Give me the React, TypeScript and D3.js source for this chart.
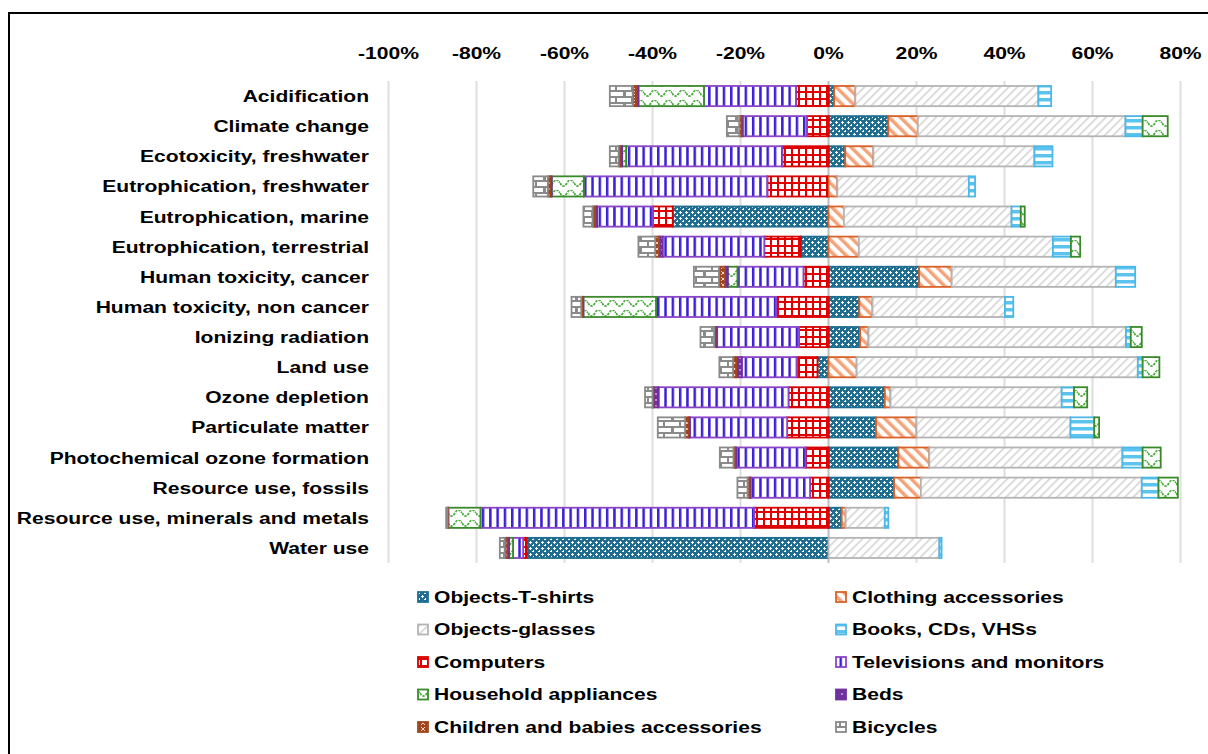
import React from "react";
import * as d3 from "d3";

const categories = [
  "Acidification",
  "Climate change",
  "Ecotoxicity, freshwater",
  "Eutrophication, freshwater",
  "Eutrophication, marine",
  "Eutrophication, terrestrial",
  "Human toxicity, cancer",
  "Human toxicity, non cancer",
  "Ionizing radiation",
  "Land use",
  "Ozone depletion",
  "Particulate matter",
  "Photochemical ozone formation",
  "Resource use, fossils",
  "Resource use, minerals and metals",
  "Water use",
];

const seriesNames = [
  "Objects-T-shirts",
  "Clothing accessories",
  "Objects-glasses",
  "Books, CDs, VHSs",
  "Computers",
  "Televisions and monitors",
  "Household appliances",
  "Beds",
  "Children and babies accessories",
  "Bicycles",
];

const tshirts = [1.3, 13.6, 3.8, -0.3, -35.4, -6.3, 20.6, 7.0, 7.2, -2.5, 12.8, 10.8, 15.9, 14.9, 3.0, -68.6];
const clothing = [4.8, 6.7, 6.4, 2.0, 3.5, 6.9, 7.4, 3.0, 1.9, 6.4, 1.3, 9.2, 7.0, 6.1, 0.9, 0];
const glasses = [41.6, 47.2, 36.6, 29.9, 38.1, 44.1, 37.3, 30.1, 58.5, 63.9, 38.9, 35.0, 43.9, 50.2, 8.9, 25.2];
const books = [2.9, 3.9, 4.1, 1.4, 2.1, 4.1, 4.4, 1.9, 1.1, 1.1, 2.8, 5.4, 4.6, 3.8, 0.8, 0.5];
const computers = [-7.4, -4.9, -10.5, -13.6, -4.5, -8.3, -5.7, -11.9, -6.7, -4.7, -9.1, -9.4, -5.2, -4.2, -16.9, -0.8];
const televisions = [-20.9, -14.6, -35.5, -41.7, -12.7, -23.1, -15.0, -27.3, -18.7, -12.5, -29.6, -22.1, -15.8, -13.5, -62.2, -2.3];
const household = [-14.9, 5.7, -0.9, -7.3, 0.9, 2.1, -2.2, -16.5, 2.5, 3.8, 3.0, 1.1, 4.1, 4.4, -7.3, -0.9];
const beds = [-0.4, -0.3, -0.5, -0.3, -0.4, -0.8, -0.6, -0.2, -0.3, -1.3, -1.1, -0.3, -0.2, -0.2, -0.1, -0.4];
const children = [-0.9, -0.5, -0.3, -0.6, -0.6, -0.9, -1.4, -0.3, -0.3, -0.7, -0.2, -0.8, -0.4, -0.5, -0.1, -0.6];
const bicycles = [-5.2, -2.8, -2.0, -3.3, -2.1, -3.8, -5.7, -2.2, -3.1, -3.1, -1.7, -6.2, -3.1, -2.3, -0.3, -1.1];

const seriesValues = [tshirts, clothing, glasses, books, computers, televisions, household, beds, children, bicycles];

const xTicks = [-100, -80, -60, -40, -20, 0, 20, 40, 60, 80];

const strokes = ["#1f6e92", "#d9622b", "#b4b4b4", "#4db8e8", "#d80000", "#8a45c8", "#3b8a2a", "#7030a0", "#a0461e", "#8a8a8a"];

const FONT = "Liberation Sans, Arial, sans-serif";
const STRETCH = 1.24;

function Patterns() {
  return (
    <defs>
      <pattern id="p0" patternUnits="userSpaceOnUse" width="6" height="6">
        <rect width="6" height="6" fill="#1f6e92" />
        <rect x="1" y="2" width="3" height="1" fill="#fff" />
        <rect x="2" y="1" width="1" height="3" fill="#fff" />
        <rect x="4" y="5" width="3" height="1" fill="#fff" />
        <rect x="5" y="4" width="1" height="3" fill="#fff" />
        <rect x="-1" y="5" width="1" height="1" fill="#fff" />
      </pattern>
      <pattern id="p1" patternUnits="userSpaceOnUse" width="8" height="8" patternTransform="rotate(-45)">
        <rect width="8" height="8" fill="#fff" />
        <rect x="0" y="0" width="3.5" height="8" fill="#f4a47a" />
      </pattern>
      <pattern id="p2" patternUnits="userSpaceOnUse" width="6" height="6" patternTransform="rotate(45)">
        <rect width="6" height="6" fill="#fff" />
        <rect x="0" y="0" width="1.6" height="6" fill="#d4d4d4" />
      </pattern>
      <pattern id="p3" patternUnits="userSpaceOnUse" width="8" height="7">
        <rect width="8" height="7" fill="#fff" />
        <rect x="0" y="0" width="8" height="3.5" fill="#5bc4ee" />
      </pattern>
      <pattern id="p4" patternUnits="userSpaceOnUse" width="7" height="7">
        <rect width="7" height="7" fill="#fff" />
        <rect x="0" y="0" width="7" height="2" fill="#e00000" />
        <rect x="0" y="0" width="2" height="7" fill="#e00000" />
      </pattern>
      <pattern id="p5" patternUnits="userSpaceOnUse" width="7.3" height="8">
        <rect width="7.3" height="8" fill="#fff" />
        <rect x="0" y="0" width="2.5" height="8" fill="#3b1fd6" />
      </pattern>
      <pattern id="p6" patternUnits="userSpaceOnUse" width="14" height="10">
        <rect width="14" height="10" fill="#fff" />
        <path d="M0,3 Q3.5,9 7,3 T14,3" fill="none" stroke="#4caf3f" strokeWidth="1.8" strokeDasharray="2.5,1" />
      </pattern>
      <pattern id="p7" patternUnits="userSpaceOnUse" width="6" height="6">
        <rect width="6" height="6" fill="#7030a0" />
        <rect x="1" y="3" width="2" height="2" fill="#b48bd6" />
      </pattern>
      <pattern id="p8" patternUnits="userSpaceOnUse" width="6" height="6">
        <rect width="6" height="6" fill="#a0461e" />
        <path d="M1,1 L5,5 M5,1 L1,5" stroke="#f3d2c0" strokeWidth="1" />
      </pattern>
      <pattern id="p9" patternUnits="userSpaceOnUse" width="16" height="12">
        <rect width="16" height="12" fill="#fff" />
        <rect x="0" y="0" width="16" height="2" fill="#8a8a8a" />
        <rect x="0" y="6" width="16" height="2" fill="#8a8a8a" />
        <rect x="7" y="0" width="2" height="6" fill="#8a8a8a" />
        <rect x="0" y="6" width="2" height="6" fill="#8a8a8a" />
        <rect x="15" y="6" width="1" height="6" fill="#8a8a8a" />
      </pattern>
    </defs>
  );
}

function SText(props: { x: number; y: number; anchor?: string; children: React.ReactNode }) {
  return (
    <text
      transform={`translate(${props.x},${props.y}) scale(${STRETCH},1)`}
      dy="0.35em"
      textAnchor={props.anchor || "start"}
      fontSize={17}
      fontWeight="bold"
      fill="#000"
    >
      {props.children}
    </text>
  );
}

export default function App() {
  const W = 1208;
  const H = 754;
  const x = d3.scaleLinear().domain([-100, 80]).range([388.5, 1180.5]);
  const y = d3.scaleBand<string>().domain(categories).range([81, 563]).paddingInner(0.33).paddingOuter(0.165);

  const rects: { key: string; x0: number; x1: number; cat: string; s: number }[] = [];
  categories.forEach((cat, ci) => {
    let pos = 0;
    let neg = 0;
    seriesValues.forEach((vals, si) => {
      const v = vals[ci];
      if (v === 0) return;
      if (v > 0) {
        rects.push({ key: `${ci}-${si}`, x0: pos, x1: pos + v, cat, s: si });
        pos += v;
      } else {
        rects.push({ key: `${ci}-${si}`, x0: neg + v, x1: neg, cat, s: si });
        neg += v;
      }
    });
  });

  const legendY = (r: number) => 597 + r * 32.5;

  return (
    <div style={{ position: "absolute", left: 0, top: 0, width: W, height: H, background: "#fff" }}>
      <svg width={W} height={H} style={{ display: "block", fontFamily: FONT }}>
        <Patterns />
        <rect x={0} y={0} width={W} height={H} fill="#fff" />
        <path d={`M9,${H} L9,13 L${W},13`} fill="none" stroke="#000" strokeWidth={2} />
        {xTicks.map((t) => (
          <g key={t}>
            <line
              x1={x(t)}
              x2={x(t)}
              y1={81}
              y2={563}
              stroke={t === 0 ? "#bdbdbd" : "#dedede"}
              strokeWidth={2}
            />
            <SText x={x(t)} y={53} anchor="middle">{`${t}%`}</SText>
          </g>
        ))}
        {categories.map((c) => (
          <SText key={c} x={369} y={(y(c) as number) + y.bandwidth() / 2} anchor="end">
            {c}
          </SText>
        ))}
        {rects.map((r) => (
          <rect
            key={r.key}
            x={x(r.x0)}
            y={y(r.cat)}
            width={Math.max(0, x(r.x1) - x(r.x0))}
            height={y.bandwidth()}
            fill={`url(#p${r.s})`}
            stroke={strokes[r.s]}
            strokeWidth={1.8}
          />
        ))}
        {seriesNames.map((n, i) => {
          const col = i % 2;
          const row = Math.floor(i / 2);
          const mx = col === 0 ? 418 : 836;
          const cy = legendY(row);
          return (
            <g key={n}>
              <rect x={mx} y={cy - 5} width={10} height={10} fill={`url(#p${i})`} stroke={strokes[i]} strokeWidth={1.8} />
              <SText x={mx + 16} y={cy}>{n}</SText>
            </g>
          );
        })}
      </svg>
    </div>
  );
}
